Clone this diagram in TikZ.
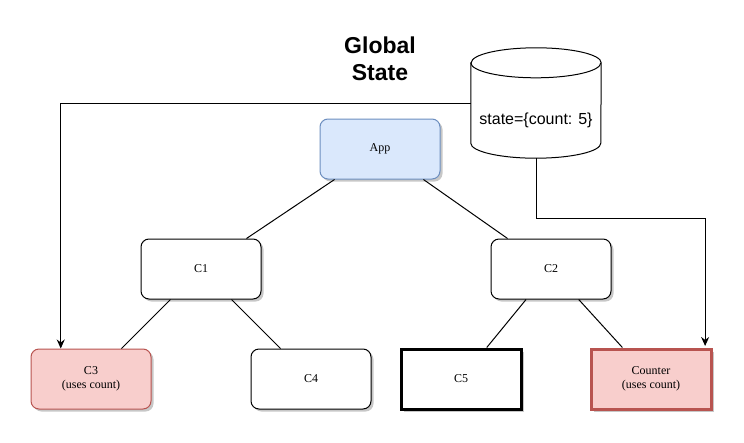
\documentclass[tikz,border=0pt]{standalone}
\usepackage{fontspec}
\setmainfont{Liberation Serif}
\newfontfamily\sansf{Liberation Sans}
\usetikzlibrary{shadows,calc,arrows.meta}
\definecolor{bluefill}{HTML}{DAE8FC}
\definecolor{blueline}{HTML}{6C8EBF}
\definecolor{redfill}{HTML}{F8CECC}
\definecolor{redline}{HTML}{B85450}
\tikzset{
  comp/.style={draw=black, line width=1pt, fill=white, minimum width=120pt, minimum height=60pt,
    align=center, inner sep=0pt, font=\fontsize{12}{14}\selectfont,
    drop shadow={shadow xshift=2.5pt, shadow yshift=-2.5pt, fill=black, opacity=0.22}},
  rcomp/.style={comp, rounded corners=8pt},
  conn/.style={line width=1pt, draw=black},
  arr/.style={conn, -{Stealth[length=9pt,width=8pt]}},
}
\begin{document}
\begin{tikzpicture}[x=1pt,y=1pt]
\useasboundingbox[fill=white] (0,0) rectangle (744,-442);
% title
\node[align=center, font=\sansf\bfseries\fontsize{23}{27}\selectfont] (title) at (380,-59) {Global\\State};
% cylinder
\node[minimum width=130pt, minimum height=110pt, inner sep=0pt] (cyl) at (536,-103) {};
\draw[line width=1pt, fill=white]
  ($(cyl.north west)+(0,-15)$) -- ($(cyl.south west)+(0,15)$)
  arc[start angle=180, end angle=360, x radius=65pt, y radius=15pt]
  -- ($(cyl.north east)+(0,-15)$)
  arc[start angle=0, end angle=180, x radius=65pt, y radius=15pt] -- cycle;
\draw[line width=1pt] ($(cyl.north west)+(0,-15)$)
  arc[start angle=180, end angle=360, x radius=65pt, y radius=15pt];
\node[font=\sansf\fontsize{16}{19}\selectfont, inner sep=0pt] (st) at ($(cyl)+(0,-17)$) {state=\{count: 5\}};
% components
\node[rcomp, fill=bluefill, draw=blueline] (app) at (380,-149) {App};
\node[rcomp] (c1) at (201,-269) {C1};
\node[rcomp] (c2) at (551,-269) {C2};
\node[rcomp, fill=redfill, draw=redline] (c3) at (91,-379) {C3\\(uses count)};
\node[rcomp] (c4) at (311,-379) {C4};
\node[comp, line width=3pt] (c5) at (461,-379) {C5};
\node[comp, fill=redfill, draw=redline, line width=3pt] (counter) at (651,-379) {Counter\\(uses count)};
% tree connectors
\draw[conn] (app) -- (c1);
\draw[conn] (app) -- (c2);
\draw[conn] (c1) -- (c3);
\draw[conn] (c1) -- (c4);
\draw[conn] (c2) -- (c5);
\draw[conn] (c2) -- (counter);
% state arrows
\draw[arr] (cyl.west) -| ($(c3.north west)!0.25!(c3.north east)$);
\coordinate (bend) at (536,-218);
\draw[arr] (cyl.south) -- (bend) -| ($(counter.north west)!0.94!(counter.north east)+(0,1.5)$);
\end{tikzpicture}
\end{document}
